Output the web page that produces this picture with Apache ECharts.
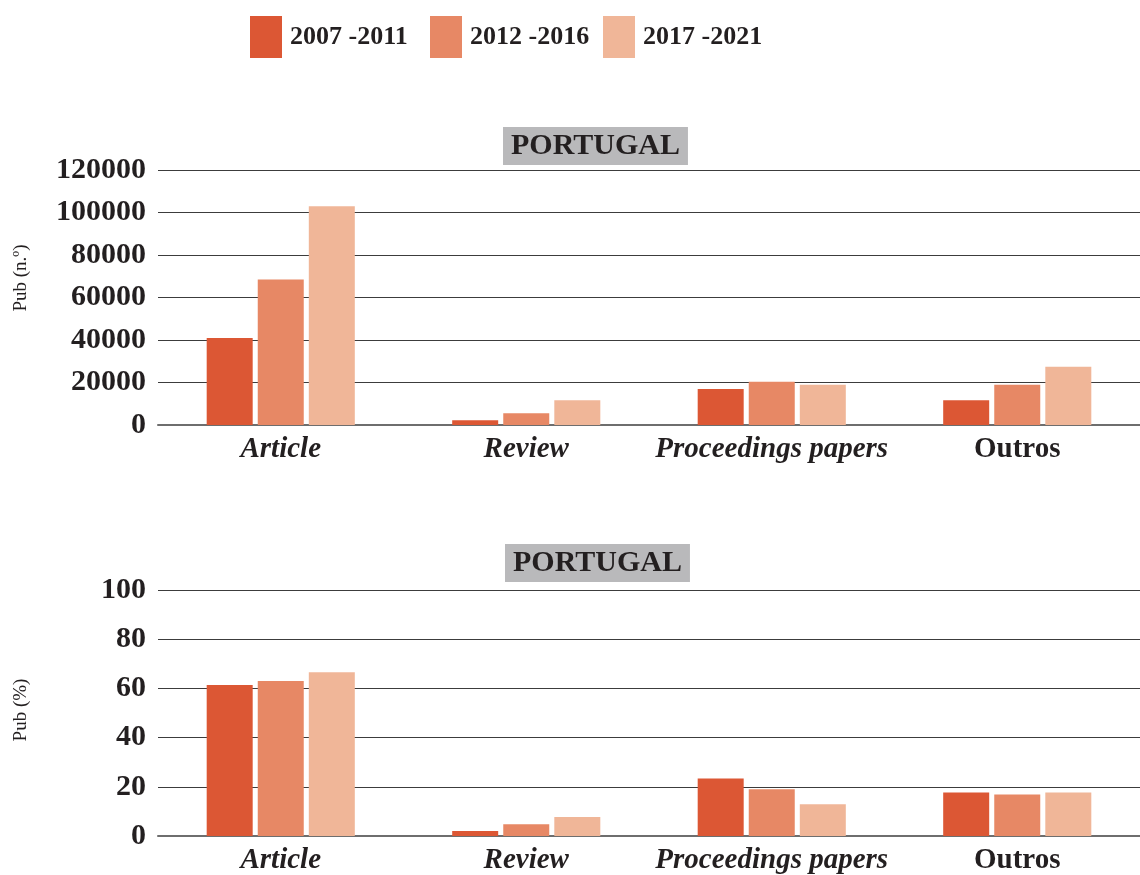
<!DOCTYPE html>
<html>
<head>
<meta charset="utf-8">
<script src="https://cdn.jsdelivr.net/npm/echarts@6/dist/echarts.min.js"></script>
<style>
  html, body { margin: 0; padding: 0; background: #fff; }
  #chart { width: 1140px; height: 875px; }
</style>
</head>
<body>
<div id="chart"></div>
<script>
// Publication types for Portugal, by five-year period
const categories = ['Article', 'Review', 'Proceedings papers', 'Outros'];
const italicCats = ['Article', 'Review', 'Proceedings papers'];
const periods = ['2007 -2011', '2012 -2016', '2017 -2021'];

// Number of publications
const countP1 = [41000, 2200, 17000, 11700];
const countP2 = [68500, 5500, 20300, 18900];
const countP3 = [103000, 11700, 18900, 27400];

// Share of publications (%)
const pctP1 = [61.4, 2.0, 23.4, 17.7];
const pctP2 = [63.0, 4.8, 19.0, 16.9];
const pctP3 = [66.6, 7.7, 12.9, 17.7];

const countTicks = [0, 20000, 40000, 60000, 80000, 100000, 120000];
const pctTicks = [0, 20, 40, 60, 80, 100];

const colors = ['#dc5734', '#e78865', '#f0b698'];
const serif = '"Liberation Serif", "DejaVu Serif", serif';
const ink = '#231f20';

const chart = echarts.init(document.getElementById('chart'));

function xAxisFor(gridIndex) {
  return {
    type: 'category', gridIndex, data: categories,
    axisLine: { show: true, lineStyle: { color: '#6e6e6e', width: 2 } },
    axisTick: { show: false },
    axisLabel: {
      margin: 10, interval: 0,
      formatter: v => italicCats.includes(v) ? '{i|' + v + '}' : '{n|' + v + '}',
      rich: {
        i: { fontFamily: serif, fontSize: 29, fontWeight: 'bold', fontStyle: 'italic', color: ink },
        n: { fontFamily: serif, fontSize: 29, fontWeight: 'bold', color: ink }
      }
    }
  };
}

function yAxisFor(gridIndex, ticks) {
  return {
    type: 'value', gridIndex,
    min: ticks[0], max: ticks[ticks.length - 1], interval: ticks[1] - ticks[0],
    axisLine: { show: false }, axisTick: { show: false },
    splitLine: { lineStyle: { color: '#3c3c3c', width: 1.2 } },
    axisLabel: {
      margin: 12, fontFamily: serif, fontSize: 30, fontWeight: 'bold', color: ink,
      formatter: v => String(v)
    }
  };
}

function barSeries(name, data, idx, axisIdx) {
  return {
    name, type: 'bar', data,
    xAxisIndex: axisIdx, yAxisIndex: axisIdx,
    itemStyle: { color: colors[idx] },
    barWidth: 46, barGap: '11%',
    emphasis: { disabled: true }
  };
}

function legendFor(idx, left) {
  return {
    data: [periods[idx]], left, top: 16, padding: 0,
    itemWidth: 32, itemHeight: 42, itemGap: 0,
    icon: 'rect',
    textStyle: { fontFamily: serif, fontSize: 26, fontWeight: 'bold', color: ink, padding: [0, 0, 0, 3] },
    selectedMode: false
  };
}

function titleBox(top, left) {
  return {
    text: 'PORTUGAL', left, top,
    backgroundColor: '#b9b9bb',
    padding: [4, 8, 4, 8],
    textStyle: { fontFamily: serif, fontSize: 30, fontWeight: 'bold', color: ink, lineHeight: 30 }
  };
}

chart.setOption({
  animation: false,
  backgroundColor: '#ffffff',
  title: [titleBox(127, 503), titleBox(544, 505)],
  legend: [legendFor(0, 250), legendFor(1, 430), legendFor(2, 603)],
  grid: [
    { left: 158, right: 0, top: 170, height: 255 },
    { left: 158, right: 0, top: 590, height: 248 }
  ],
  xAxis: [xAxisFor(0), xAxisFor(1)],
  yAxis: [yAxisFor(0, countTicks), yAxisFor(1, pctTicks)],
  graphic: [
    { type: 'text', x: 12, y: 278, rotation: Math.PI / 2,
      style: { text: 'Pub (n.º)', fontFamily: serif, fontSize: 19, fill: ink, align: 'center', verticalAlign: 'top' } },
    { type: 'text', x: 12, y: 710, rotation: Math.PI / 2,
      style: { text: 'Pub (%)', fontFamily: serif, fontSize: 19, fill: ink, align: 'center', verticalAlign: 'top' } }
  ],
  series: [
    barSeries(periods[0], countP1, 0, 0),
    barSeries(periods[1], countP2, 1, 0),
    barSeries(periods[2], countP3, 2, 0),
    barSeries(periods[0], pctP1, 0, 1),
    barSeries(periods[1], pctP2, 1, 1),
    barSeries(periods[2], pctP3, 2, 1)
  ]
});
</script>
</body>
</html>
